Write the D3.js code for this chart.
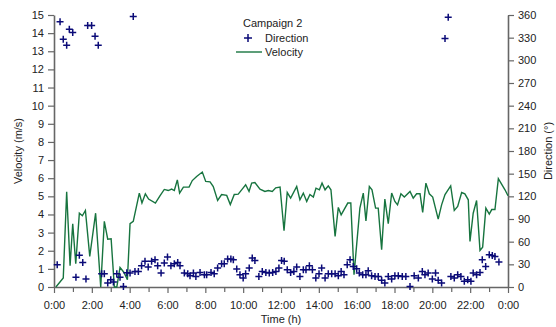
<!DOCTYPE html>
<html lang="en">
<head>
<meta charset="UTF-8">
<title>Campaign 2</title>
<style>
  body { margin: 0; background: #fff; }
  text { font-family: "Liberation Sans", Arial, sans-serif; fill: #222; }
</style>
</head>
<body>
<svg id="svg" width="556" height="327"></svg>
<script src="https://d3js.org/d3.v7.min.js"></script>
<script>
// ---- data (time in hours) ----
const velTime = [0.1, 0.49, 0.67, 0.85, 0.99, 1.15, 1.34, 1.5, 1.66, 1.89, 2.2, 2.47, 2.66, 2.84, 3.02, 3.19, 3.32, 3.49, 3.7, 3.88,
  4.02, 4.19, 4.51, 4.65, 4.83, 5.0, 5.36, 5.6, 5.83, 6.04, 6.22, 6.36, 6.52, 6.64, 6.84, 7.14, 7.31, 7.54, 7.84, 8.02,
  8.25, 8.42, 8.65, 8.86, 9.13, 9.32, 9.53, 9.74, 9.95, 10.13, 10.31, 10.45, 10.62, 10.89, 11.15, 11.33, 11.54, 11.72, 11.95, 12.16,
  12.33, 12.51, 12.83, 13.0, 13.18, 13.36, 13.53, 13.71, 13.85, 14.03, 14.17, 14.33, 14.5, 14.64, 14.86, 15.03, 15.18, 15.53, 15.69, 15.86,
  16.17, 16.35, 16.49, 16.67, 16.81, 17.0, 17.14, 17.32, 17.49, 17.67, 17.85, 18.02, 18.16, 18.34, 18.52, 18.82, 18.99, 19.17, 19.35, 19.49,
  19.66, 19.84, 20.02, 20.31, 20.49, 20.67, 20.97, 21.16, 21.34, 21.55, 21.72, 21.9, 21.99, 22.16, 22.34, 22.52, 22.66, 22.83, 23.01, 23.14,
  23.31, 23.49, 23.84, 24.0]
const velocity = [0.0, 0.5, 5.25, 1.17, 3.49, 1.28, 4.07, 3.93, 4.22, 1.69, 4.07, 0.0, 3.62, 2.64, 2.66, 0.0, 0.0, 1.08, 0.8, 0.4,
  3.49, 3.62, 5.18, 4.63, 5.14, 4.85, 4.63, 5.03, 5.38, 5.32, 5.4, 5.32, 5.91, 5.18, 5.51, 5.51, 5.87, 6.09, 6.34, 5.82,
  5.8, 5.54, 4.77, 5.1, 5.05, 4.55, 5.1, 5.12, 5.4, 5.64, 5.27, 5.73, 5.76, 5.4, 5.27, 5.32, 5.27, 5.47, 5.51, 3.1,
  5.21, 4.9, 5.54, 4.81, 5.18, 4.72, 5.1, 4.96, 5.45, 5.36, 5.73, 5.36, 5.58, 5.36, 2.79, 4.39, 3.98, 4.63, 4.63, 0.68,
  4.35, 5.18, 3.65, 5.54, 5.36, 4.35, 4.35, 2.06, 4.85, 3.49, 5.18, 4.72, 4.53, 5.14, 4.96, 5.27, 4.9, 5.14, 5.14, 4.11,
  5.73, 5.14, 4.96, 3.74, 4.53, 5.1, 5.58, 4.22, 4.44, 5.21, 5.14, 4.81, 2.51, 4.07, 4.77, 2.02, 2.2, 4.35, 4.02, 4.27,
  4.27, 5.97, 5.36, 5.03]

const dirTime = [0.17, 0.32, 0.49, 0.67, 0.81, 0.99, 1.16, 1.34, 1.52, 1.69, 1.78, 1.99, 2.17, 2.34, 2.52, 2.66, 2.84, 3.0, 3.14, 3.32,
  3.49, 3.67, 3.85, 4.02, 4.19, 4.28, 4.46, 4.63, 4.81, 4.98, 5.16, 5.34, 5.48, 5.66, 5.83, 6.0, 6.18, 6.36, 6.54, 6.66,
  6.89, 7.07, 7.19, 7.37, 7.5, 7.72, 7.95, 8.07, 8.3, 8.47, 8.65, 8.86, 9.0, 9.18, 9.35, 9.48, 9.66, 9.83, 10.0, 10.13,
  10.32, 10.48, 10.62, 10.83, 11.01, 11.2, 11.38, 11.56, 11.73, 11.89, 12.03, 12.17, 12.33, 12.51, 12.68, 12.83, 13.0, 13.18, 13.32, 13.5,
  13.66, 13.84, 14.01, 14.15, 14.33, 14.5, 14.68, 14.86, 15.03, 15.18, 15.33, 15.5, 15.65, 15.82, 16.0, 16.14, 16.32, 16.49, 16.61, 16.79,
  16.97, 17.14, 17.32, 17.49, 17.67, 17.85, 18.02, 18.2, 18.41, 18.6, 18.82, 19.04, 19.26, 19.47, 19.61, 19.78, 20.0, 20.17, 20.31, 20.49,
  20.67, 20.84, 20.98, 21.16, 21.34, 21.51, 21.69, 21.87, 22.04, 22.16, 22.34, 22.52, 22.64, 22.82, 23.01, 23.17, 23.31, 23.52]
const direction = [29.5, 351, 328, 320, 341, 337, 13, 42, 32.5, 10.5, 346, 346, 332, 320, 17.6, 17.6, 5.3, 9.7, 6.6, 17.6,
  13, 0.8, 19, 18.5, 358, 20.6, 20.6, 28, 34, 26.4, 34, 36, 28, 18.5, 31.7, 39.6, 28, 30.8, 32.5, 28,
  18.5, 17.6, 15, 18.5, 14, 19.3, 16.3, 16.3, 19.3, 17.6, 25, 30.8, 30.8, 37, 37, 36, 23.8, 16.3, 11.9, 17.6,
  25, 38.3, 35, 14, 20.6, 19.3, 18.5, 19.3, 20.6, 25, 35, 34, 22.9, 19.3, 20.6, 26.4, 14, 22.9, 22.9, 28,
  22.9, 11.9, 17.6, 25, 11.9, 17.6, 17.6, 17.6, 15, 20.6, 16.3, 29.5, 36, 27, 24, 18.5, 16.3, 16.3, 21.5, 15,
  14, 14, 8.8, 5.3, 14, 10.5, 15, 15, 14, 14, 0.8, 15, 11.9, 20.6, 16.3, 18.5, 10.5, 18.5, 8.8, 5.3,
  329, 357, 14, 11.9, 16.3, 14, 7.5, 9.7, 7.5, 18.5, 16.3, 19.3, 36, 27, 42.7, 41.6, 40.5, 33]

const xTicks = d3.range(0, 25, 2)
const xMinor = d3.range(1, 24, 2)
const velTicks = d3.range(0, 16, 1)
const dirTicks = d3.range(0, 361, 30)

// ---- layout ----
const margin = { top: 15, right: 48, bottom: 40, left: 54 }
const W = 556, H = 327
const svg = d3.select('#svg')

const x = d3.scaleLinear().domain([0, 24]).range([margin.left, W - margin.right])
const yV = d3.scaleLinear().domain([0, 15]).range([H - margin.bottom, margin.top])
const yD = d3.scaleLinear().domain([0, 360]).range([H - margin.bottom, margin.top])

const axisColor = '#666'
function styleAxis(g) {
  g.select('.domain').attr('stroke', axisColor).attr('stroke-width', 1.6)
  g.selectAll('.tick line').attr('stroke', axisColor).attr('stroke-width', 1.2)
  g.selectAll('.tick text').attr('font-size', 11).attr('fill', '#222')
    .attr('font-family', '"Liberation Sans", Arial, sans-serif')
}

// minor x ticks
svg.append('g')
  .attr('transform', `translate(0,${H - margin.bottom})`)
  .call(d3.axisBottom(x).tickValues(xMinor).tickSize(5).tickFormat(''))
  .call(g => g.select('.domain').remove())
  .call(g => g.selectAll('.tick line').attr('stroke', axisColor).attr('stroke-width', 1.2))

svg.append('g')
  .attr('transform', `translate(0,${H - margin.bottom})`)
  .call(d3.axisBottom(x).tickValues(xTicks).tickSize(6).tickSizeOuter(0).tickPadding(8)
    .tickFormat(d => (d % 24) + ':00'))
  .call(styleAxis)

svg.append('g')
  .attr('transform', `translate(${margin.left},0)`)
  .call(d3.axisLeft(yV).tickValues(velTicks).tickSize(6).tickSizeOuter(0).tickPadding(4))
  .call(styleAxis)

svg.append('g')
  .attr('transform', `translate(${W - margin.right},0)`)
  .call(d3.axisRight(yD).tickValues(dirTicks).tickSize(6).tickSizeOuter(0).tickPadding(4))
  .call(styleAxis)

// axis titles
svg.append('text')
  .attr('x', (margin.left + W - margin.right) / 2).attr('y', 323)
  .attr('text-anchor', 'middle').attr('font-size', 11).text('Time (h)')
svg.append('text')
  .attr('transform', `translate(22,${(margin.top + H - margin.bottom) / 2}) rotate(-90)`)
  .attr('text-anchor', 'middle').attr('font-size', 11).text('Velocity (m/s)')
svg.append('text')
  .attr('transform', `translate(552,${(margin.top + H - margin.bottom) / 2}) rotate(-90)`)
  .attr('text-anchor', 'middle').attr('font-size', 11).text('Direction (°)')

// velocity line
const velData = velTime.map((t, i) => [t, velocity[i]])
svg.append('path')
  .datum(velData)
  .attr('fill', 'none')
  .attr('stroke', '#17743f')
  .attr('stroke-width', 1.4)
  .attr('d', d3.line().x(d => x(d[0])).y(d => yV(d[1])))

// direction markers
const dirData = dirTime.map((t, i) => [t, direction[i]])
svg.append('g')
  .selectAll('path')
  .data(dirData)
  .join('path')
  .attr('transform', d => `translate(${x(d[0])},${yD(d[1])})`)
  .attr('d', 'M-3.5,0H3.5M0,-3.5V3.5')
  .attr('stroke', '#0b0b78')
  .attr('stroke-width', 1.5)

// legend
const leg = svg.append('g')
leg.append('text').attr('x', 243).attr('y', 27).attr('font-size', 11).text('Campaign 2')
leg.append('path').attr('d', 'M244,38H252M248,34V42').attr('stroke', '#0b0b78').attr('stroke-width', 1.5)
leg.append('text').attr('x', 265).attr('y', 42).attr('font-size', 11).text('Direction')
leg.append('line').attr('x1', 236).attr('x2', 262).attr('y1', 52).attr('y2', 52)
  .attr('stroke', '#17743f').attr('stroke-width', 1.4)
leg.append('text').attr('x', 265).attr('y', 56).attr('font-size', 11).text('Velocity')
</script>
</body>
</html>
